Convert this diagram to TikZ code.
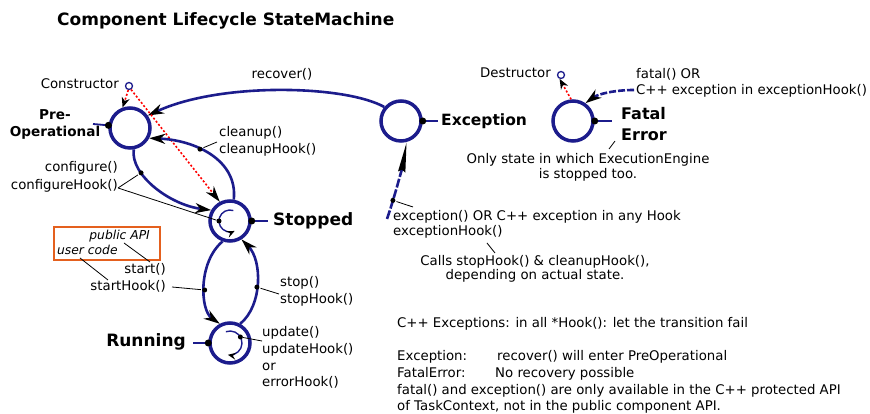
\documentclass[tikz,border=0pt]{standalone}
\usepackage{fontspec}
\setmainfont{DejaVu Sans}
\usetikzlibrary{arrows.meta}
\definecolor{navy}{RGB}{28,28,140}
\definecolor{orng}{RGB}{228,96,30}
\begin{document}
\begin{tikzpicture}[x=1pt,y=1pt,
  state/.style={circle, draw=navy, line width=3.5pt, minimum size=40pt, inner sep=0},
  init/.style={circle, draw=navy, line width=1.3pt, minimum size=7pt, inner sep=0},
  sdot/.style={circle, fill=black, inner sep=0, minimum size=7pt},
  pdot/.style={circle, fill=black, inner sep=0, minimum size=5pt},
  stub/.style={draw=navy, line width=1.8pt},
  trans/.style={draw=navy, line width=2.6pt},
  inner/.style={draw=navy, line width=1.4pt},
  arr/.style={-{Stealth[length=16pt,width=10pt,inset=5pt,black]}},
  sarr/.style={-{Stealth[length=10pt,width=8pt,inset=3pt,black]}},
  iarr/.style={-{Stealth[length=8pt,width=7pt,inset=3pt,black]}},
  longarr/.style={-{Stealth[length=30pt,width=7pt,inset=2pt,black]}},
  reddot/.style={draw=red, line width=1.6pt, dash pattern=on 2pt off 2pt},
  ptr/.style={draw=black, line width=0.8pt},
  lbl/.style={inner sep=0, font=\fontsize{13.3}{17}\selectfont},
  blbl/.style={inner sep=0, font=\fontsize{15.5}{20}\selectfont\bfseries},
  bigbl/.style={inner sep=0, font=\fontsize{17}{20}\selectfont\bfseries},
  ilbl/.style={inner sep=0, font=\fontsize{12.3}{14}\selectfont\itshape},
]
\useasboundingbox (0,0) rectangle (870,414);

% title
\node[inner sep=0, anchor=base west, font=\fontsize{17}{20}\selectfont\bfseries] (title) at (57,388) {Component Lifecycle StateMachine};

% states
\node[state] (pre) at (130,286) {};
\node[state] (stop) at (230,193) {};
\node[state] (run) at (230,71) {};
\node[state] (exc) at (401,293) {};
\node[state] (fatal) at (573,293) {};
\node[init] (cons) at (129,328) {};
\node[init] (destr) at (561,339) {};

% stubs
\coordinate (prestub) at (93,290);
\coordinate (stopstub) at (268,193);
\coordinate (runstub) at (193,71);
\coordinate (excstub) at (438,293);
\coordinate (fatalstub) at (612,293);
\draw[stub] (pre.173) -- (prestub);
\draw[stub] (stop.east) -- (stopstub);
\draw[stub] (run.west) -- (runstub);
\draw[stub] (exc.east) -- (excstub);
\draw[stub] (fatal.east) -- (fatalstub);
\node[sdot] (predot) at (pre.173) {};
\node[sdot] (stopdot) at (stop.east) {};
\node[sdot] (rundot) at (run.west) {};
\node[sdot] (excdot) at (exc.east) {};
\node[sdot] (fataldot) at (fatal.east) {};

% inner arcs
\draw[inner, iarr] ([shift={(72:11pt)}]stop.center) arc[start angle=72, end angle=295, radius=11pt];
\node[pdot] (stopin) at ([shift={(180:11pt)}]stop.center) {};
\draw[inner, iarr] ([shift={(110:12pt)}]run.center) arc[start angle=110, end angle=-100, radius=12pt];
\node[pdot] (runin) at ([shift={(30:12pt)}]run.center) {};

% transitions
\draw[trans, arr] (exc.140) .. controls (345,329) and (220,332) .. (pre.35);
\node[lbl, anchor=base] (recover) at (282,335) {recover()};

\draw[reddot, sarr] (cons.-100) -- (pre.110);
\draw[reddot, arr] (cons.-60) -- (stop.118);

\draw[trans, arr] (stop.80) .. controls (238,254) and (195,274) .. node[pdot, pos=0.6] (cdot) {} (pre.-28);
\draw[trans, arr] (pre.-80) .. controls (130,239) and (170,209) .. node[pdot, pos=0.3] (gdot) {} (stop.150);
\draw[trans, arr] (stop.-110) .. controls (198,152) and (200,104) .. node[pdot, pos=0.55] (sdotn) {} (run.118);
\draw[trans, arr] (run.62) .. controls (263,109) and (262,154) .. node[pdot, pos=0.45] (tdot) {} (stop.-58);

\coordinate (excstart) at (387,195);
\draw[trans, dash pattern=on 9pt off 2pt, longarr] (excstart) .. controls (395,218) and (403,250) .. node[pdot, pos=0.25] (edot) {} (exc.-75);
\coordinate (fatstart) at (634,324);
\draw[trans, dash pattern=on 7pt off 2pt, arr] (fatstart) .. controls (615,324) and (598,320) .. (fatal.55);
\draw[reddot, sarr] (fatal.95) -- (destr.-110);

% labels (multi-line nodes are anchored at the baseline of their last line)
\node[lbl, anchor=base east] (conslbl) at (119,325) {Constructor};
\node[lbl, anchor=base east] (destrlbl) at (551,336) {Destructor};
\node[lbl, anchor=base west, align=left, font=\fontsize{13.3}{16}\selectfont] (fatallbl) at (636,319) {fatal() OR\\C++ exception in exceptionHook()};
\node[blbl, anchor=base west] (exclbl) at (441,288) {Exception};
\node[anchor=base west, align=left, inner sep=0, font=\fontsize{16}{21}\selectfont\bfseries] (fatalname) at (621,273) {Fatal\\Error};
\node[inner sep=0, anchor=base, align=center, font=\fontsize{13.6}{17}\selectfont\bfseries] (prelbl) at (55,277) {Pre-\\Operational};
\node[lbl, anchor=base west, align=left] (cleanlbl) at (219,260) {cleanup()\\cleanupHook()};
\node[lbl, anchor=base east, align=right, font=\fontsize{13.3}{18}\selectfont] (conflbl) at (118,224) {configure()\\configureHook()};
\node[bigbl, anchor=base west] (stoplbl) at (273,188) {Stopped};
\node[ilbl, anchor=base east] (pubapi) at (150,174) {public API};
\node[ilbl, anchor=base west] (usercode) at (57,159) {user code};
\draw[orng, line width=2pt] (54,187) rectangle (160,154);
\node[lbl, anchor=base east, align=right] (startlbl) at (166,123) {start()\\startHook()};
\node[lbl, anchor=base west, align=left] (stoptr) at (280,110) {stop()\\stopHook()};
\node[bigbl, anchor=base east] (runlbl) at (186,67) {Running};
\node[lbl, anchor=base west, align=left, font=\fontsize{13.3}{16.7}\selectfont] (updlbl) at (262,27) {update()\\updateHook()\\or\\errorHook()};
\node[lbl, anchor=base west, align=left, font=\fontsize{13.3}{14.5}\selectfont] (exctr) at (393,178.5) {exception() OR C++ exception in any Hook\\exceptionHook()};
\node[lbl, anchor=base, align=center, font=\fontsize{13.3}{14}\selectfont] (calls) at (535,134) {Calls stopHook() \& cleanupHook(),\\depending on actual state.};
\node[lbl, anchor=base, align=center, font=\fontsize{13.3}{15}\selectfont] (only) at (588,235) {Only state in which ExecutionEngine\\is stopped too.};
\node[lbl, anchor=base west] (cppnote) at (397,86) {C++ Exceptions: in all *Hook(): let the transition fail};
\node[lbl, anchor=base west] (excnote) at (397,53) {Exception:};
\node[lbl, anchor=base west] (excnote2) at (497,53) {recover() will enter PreOperational};
\node[lbl, anchor=base west] (fatnote) at (397,36) {FatalError:};
\node[lbl, anchor=base west] (fatnote2) at (495,36) {No recovery possible};
\node[lbl, anchor=base west, align=left, font=\fontsize{13.3}{16}\selectfont] (apinote) at (397,3) {fatal() and exception() are only available in the C++ protected API\\of TaskContext, not in the public component API.};

% pointer lines
\coordinate (cptr) at (217,272);
\draw[ptr] (cdot) -- (cptr);
\coordinate (gptr) at (118,226);
\draw[ptr] (gdot) -- (gptr);
\draw[ptr] (gptr) -- (stopin);
\coordinate (sptr) at (172,127);
\draw[ptr] (sdotn) -- (sptr);
\coordinate (tptr) at (279,120);
\draw[ptr] (tdot) -- (tptr);
\coordinate (uptr) at (262,73);
\draw[ptr] (runin) -- (uptr);
\coordinate (eptr) at (413,207);
\draw[ptr] (edot) -- (eptr);
\coordinate (tick1a) at (487,171);
\coordinate (tick1b) at (495,161);
\draw[ptr] (tick1a) -- (tick1b);
\coordinate (tick2a) at (615,273);
\coordinate (tick2b) at (609,265);
\draw[ptr] (tick2a) -- (tick2b);
\coordinate (pa1) at (124,171);
\coordinate (pa2) at (150,152);
\draw[ptr] (pa1) -- (pa2);
\coordinate (uc1) at (80,156);
\coordinate (uc2) at (108,134);
\draw[ptr] (uc1) -- (uc2);
\end{tikzpicture}
\end{document}
